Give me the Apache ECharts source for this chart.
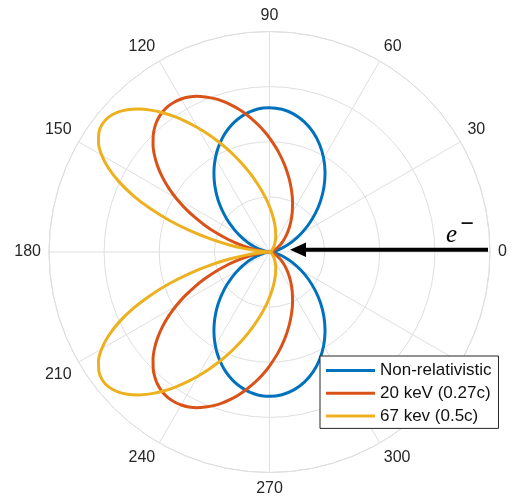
<!DOCTYPE html>
<html>
<head>
<meta charset="utf-8">
<script src="https://cdn.jsdelivr.net/npm/echarts@6/dist/echarts.min.js"></script>
<style>
  html, body { margin: 0; padding: 0; background: #fff; }
  #chart { width: 513px; height: 502px; }
</style>
</head>
<body>
<div id="chart"></div>
<script>
// Polar angles in degrees (0 = +x, counter-clockwise); finer steps on the lobe side
const angles = [
  0, 5, 10, 15, 20, 25, 30, 35, 40, 45, 50, 55, 60, 65, 70, 75, 80, 85,
  90, 92.5, 95, 97.5, 100, 102.5, 105, 107.5, 110, 112.5, 115, 117.5, 120, 122.5, 125, 127.5,
  130, 132.5, 135, 137.5, 140, 142.5, 145, 147.5, 150, 152.5, 155, 157.5, 160, 162.5, 165, 167.5,
  170, 172.5, 175, 177.5,
  180, 182.5, 185, 187.5, 190, 192.5, 195, 197.5, 200, 202.5, 205, 207.5, 210, 212.5, 215, 217.5,
  220, 222.5, 225, 227.5, 230, 232.5, 235, 237.5, 240, 242.5, 245, 247.5, 250, 252.5, 255, 257.5,
  260, 262.5, 265, 267.5,
  270, 275, 280, 285, 290, 295, 300, 305, 310, 315, 320, 325, 330, 335, 340, 345, 350, 355,
  360
];

// Radiated intensity (radial units, one grid ring = 1)
const nonRelativistic = [
  0, 0.020, 0.079, 0.175, 0.306, 0.468, 0.655, 0.862, 1.082, 1.310, 1.537, 1.757, 1.964, 2.151, 2.313, 2.444, 2.540, 2.599,
  2.619, 2.614, 2.599, 2.574, 2.540, 2.496, 2.444, 2.382, 2.313, 2.235, 2.151, 2.061, 1.964, 1.863, 1.757, 1.648,
  1.537, 1.424, 1.310, 1.195, 1.082, 0.971, 0.862, 0.756, 0.655, 0.558, 0.468, 0.384, 0.306, 0.237, 0.175, 0.123,
  0.079, 0.045, 0.020, 0.005,
  0, 0.005, 0.020, 0.045, 0.079, 0.123, 0.175, 0.237, 0.306, 0.384, 0.468, 0.558, 0.655, 0.756, 0.862, 0.971,
  1.082, 1.195, 1.310, 1.424, 1.537, 1.648, 1.757, 1.863, 1.964, 2.061, 2.151, 2.235, 2.313, 2.382, 2.444, 2.496,
  2.540, 2.574, 2.599, 2.614,
  2.619, 2.599, 2.540, 2.444, 2.313, 2.151, 1.964, 1.757, 1.537, 1.310, 1.082, 0.862, 0.655, 0.468, 0.306, 0.175, 0.079, 0.020,
  0
];

const kev20 = [
  0, 0.005, 0.019, 0.044, 0.078, 0.124, 0.181, 0.251, 0.334, 0.432, 0.545, 0.676, 0.824, 0.990, 1.175, 1.377, 1.596, 1.828,
  2.069, 2.191, 2.313, 2.433, 2.551, 2.665, 2.773, 2.874, 2.966, 3.045, 3.115, 3.168, 3.204, 3.222, 3.220, 3.196,
  3.149, 3.079, 2.984, 2.865, 2.723, 2.559, 2.375, 2.174, 1.959, 1.734, 1.503, 1.272, 1.046, 0.829, 0.628, 0.447,
  0.293, 0.167, 0.075, 0.019,
  0, 0.019, 0.075, 0.167, 0.293, 0.447, 0.628, 0.829, 1.046, 1.272, 1.503, 1.734, 1.959, 2.174, 2.375, 2.559,
  2.723, 2.865, 2.984, 3.079, 3.149, 3.196, 3.220, 3.222, 3.204, 3.168, 3.115, 3.045, 2.966, 2.874, 2.773, 2.665,
  2.551, 2.433, 2.313, 2.191,
  2.069, 1.828, 1.596, 1.377, 1.175, 0.990, 0.824, 0.676, 0.545, 0.432, 0.334, 0.251, 0.181, 0.124, 0.078, 0.044, 0.019, 0.005,
  0
];

const kev67 = [
  0, 0.001, 0.003, 0.008, 0.014, 0.023, 0.034, 0.049, 0.067, 0.091, 0.120, 0.157, 0.203, 0.260, 0.330, 0.418, 0.527, 0.661,
  0.824, 0.918, 1.022, 1.135, 1.258, 1.393, 1.537, 1.693, 1.858, 2.034, 2.218, 2.409, 2.604, 2.801, 2.996, 3.184,
  3.360, 3.517, 3.649, 3.749, 3.808, 3.820, 3.778, 3.678, 3.515, 3.292, 3.010, 2.676, 2.302, 1.901, 1.494, 1.099,
  0.737, 0.431, 0.197, 0.050,
  0, 0.050, 0.197, 0.431, 0.737, 1.099, 1.494, 1.901, 2.302, 2.676, 3.010, 3.292, 3.515, 3.678, 3.778, 3.820,
  3.808, 3.749, 3.649, 3.517, 3.360, 3.184, 2.996, 2.801, 2.604, 2.409, 2.218, 2.034, 1.858, 1.693, 1.537, 1.393,
  1.258, 1.135, 1.022, 0.918,
  0.824, 0.661, 0.527, 0.418, 0.330, 0.260, 0.203, 0.157, 0.120, 0.091, 0.067, 0.049, 0.034, 0.023, 0.014, 0.008, 0.003, 0.001,
  0
];

const seriesNames = ['Non-relativistic', '20 keV (0.27c)', '67 kev (0.5c)'];
const seriesColors = ['#0072BD', '#D95319', '#EDB120'];
const seriesValues = [nonRelativistic, kev20, kev67];

const angleTicks = [0, 30, 60, 90, 120, 150, 180, 210, 240, 270, 300];

const gridColor = '#dfdfdf';
const labelColor = '#262626';

const chart = echarts.init(document.getElementById('chart'), null, { renderer: 'canvas' });

const series = seriesValues.map((vals, i) => ({
  name: seriesNames[i],
  type: 'line',
  coordinateSystem: 'polar',
  smooth: 0.3,
  symbol: 'none',
  animation: false,
  lineStyle: { color: seriesColors[i], width: 3 },
  itemStyle: { color: seriesColors[i] },
  data: angles.map((a, k) => [vals[k], a])
}));

chart.setOption({
  animation: false,
  backgroundColor: '#fff',
  polar: { center: [269.5, 252], radius: 220.5 },
  angleAxis: {
    type: 'value',
    min: 0,
    max: 360,
    interval: 30,
    startAngle: 0,
    clockwise: false,
    axisLine: { show: true, lineStyle: { color: gridColor, width: 1 } },
    axisTick: { show: false },
    splitLine: { show: true, lineStyle: { color: gridColor, width: 1 } },
    axisLabel: {
      margin: 8,
      color: labelColor,
      fontFamily: 'Liberation Sans, Arial, sans-serif',
      fontSize: 16,
      formatter: v => (angleTicks.indexOf(v) >= 0 ? String(v) : '')
    }
  },
  radiusAxis: {
    type: 'value',
    min: 0,
    max: 4,
    interval: 1,
    axisLine: { show: false },
    axisTick: { show: false },
    axisLabel: { show: false },
    splitLine: { show: true, lineStyle: { color: gridColor, width: 1 } }
  },
  legend: {
    orient: 'vertical',
    left: 320,
    top: 356,
    padding: [6, 7, 4, 6],
    itemGap: 5.7,
    itemWidth: 49,
    itemHeight: 3,
    icon: 'rect',
    backgroundColor: '#fff',
    borderColor: '#262626',
    borderWidth: 1,
    borderRadius: 0,
    data: seriesNames,
    textStyle: {
      color: '#111',
      fontFamily: 'Liberation Sans, Arial, sans-serif',
      fontSize: 17,
      lineHeight: 17
    }
  },
  graphic: [
    {
      type: 'line',
      shape: { x1: 302, y1: 249.7, x2: 488, y2: 249.7 },
      style: { stroke: '#000', lineWidth: 4 },
      z: 10
    },
    {
      type: 'polygon',
      shape: { points: [[290, 249.7], [306, 242.4], [306, 257]] },
      style: { fill: '#000' },
      z: 10
    },
    {
      type: 'text',
      x: 446,
      y: 235.5,
      style: {
        text: 'e',
        font: 'italic 25px "Liberation Serif", "Times New Roman", serif',
        fill: '#000',
        textAlign: 'left',
        textVerticalAlign: 'middle'
      },
      z: 10
    },
    {
      type: 'text',
      x: 460.5,
      y: 225,
      style: {
        text: '\u2212',
        font: 'bold 24px "Liberation Serif", "Times New Roman", serif',
        fill: '#000',
        textAlign: 'left',
        textVerticalAlign: 'middle'
      },
      z: 10
    }
  ],
  series: series
});
</script>
</body>
</html>
